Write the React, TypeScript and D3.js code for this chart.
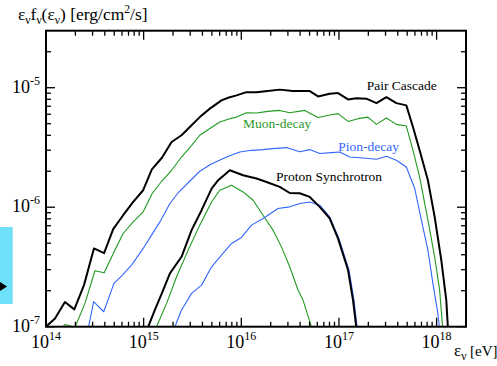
import React from "react";
import * as d3 from "d3";

// all curves as [log10(E / eV), log10(E f(E) / erg cm^-2 s^-1)]
const pairCascade: [number, number][] = [
  [14.0, -7.0], [14.092, -6.931], [14.194, -6.794], [14.29, -6.855], [14.389, -6.652],
  [14.491, -6.345], [14.595, -6.384], [14.688, -6.184], [14.79, -6.067], [14.893, -5.956],
  [14.995, -5.858], [15.084, -5.683], [15.187, -5.586], [15.286, -5.454], [15.388, -5.398],
  [15.473, -5.329], [15.575, -5.246], [15.678, -5.175], [15.797, -5.106], [15.865, -5.084],
  [15.951, -5.064], [16.053, -5.037], [16.156, -5.037], [16.271, -5.027], [16.394, -5.016],
  [16.527, -5.028], [16.701, -5.028], [16.786, -5.073], [16.905, -5.05], [16.991, -5.045],
  [17.093, -5.098], [17.179, -5.089], [17.281, -5.092], [17.384, -5.129], [17.486, -5.079],
  [17.588, -5.129], [17.69, -5.148], [17.758, -5.329], [17.826, -5.524], [17.911, -5.774],
  [17.98, -6.081], [18.048, -6.443], [18.099, -6.777], [18.123, -7.111],
];

const muonDecay: [number, number][] = [
  [14.1, -7.053], [14.194, -6.982], [14.297, -7.005], [14.399, -6.805], [14.501, -6.532],
  [14.596, -6.549], [14.706, -6.359], [14.79, -6.22], [14.893, -6.123], [14.995, -6.039],
  [15.089, -5.883], [15.184, -5.783], [15.286, -5.691], [15.388, -5.58], [15.491, -5.482],
  [15.575, -5.398], [15.678, -5.342], [15.78, -5.287], [15.882, -5.259], [15.951, -5.246],
  [16.053, -5.209], [16.156, -5.211], [16.271, -5.198], [16.394, -5.19], [16.496, -5.209],
  [16.65, -5.19], [16.786, -5.249], [16.923, -5.226], [16.991, -5.217], [17.093, -5.282],
  [17.195, -5.259], [17.297, -5.246], [17.384, -5.307], [17.486, -5.254], [17.588, -5.307],
  [17.69, -5.321], [17.758, -5.524], [17.826, -5.747], [17.911, -6.108], [17.98, -6.415],
  [18.031, -6.694], [18.072, -7.111],
];

const pionDecay: [number, number][] = [
  [14.409, -7.112], [14.488, -6.791], [14.591, -6.875], [14.696, -6.637], [14.783, -6.568],
  [14.88, -6.48], [14.995, -6.345], [15.081, -6.234], [15.166, -6.123], [15.269, -5.969],
  [15.35, -5.883], [15.463, -5.789], [15.575, -5.699], [15.688, -5.641], [15.849, -5.58],
  [15.985, -5.538], [16.104, -5.524], [16.223, -5.518], [16.325, -5.51], [16.462, -5.501],
  [16.598, -5.536], [16.701, -5.518], [16.803, -5.551], [16.923, -5.543], [17.008, -5.538],
  [17.11, -5.58], [17.246, -5.588], [17.384, -5.599], [17.486, -5.574], [17.588, -5.607],
  [17.69, -5.663], [17.775, -5.841], [17.844, -6.108], [17.911, -6.359], [17.962, -6.637],
  [18.013, -6.888], [18.041, -7.111],
];

const protonSync: [number, number][] = [
  [15.023, -7.111], [15.047, -7.0], [15.115, -6.86], [15.2, -6.693], [15.269, -6.554],
  [15.388, -6.415], [15.491, -6.192], [15.593, -6.025], [15.696, -5.844], [15.763, -5.774],
  [15.882, -5.691], [16.018, -5.733], [16.156, -5.76], [16.258, -5.789], [16.394, -5.83],
  [16.496, -5.881], [16.598, -5.883], [16.701, -5.914], [16.803, -5.997], [16.905, -6.094],
  [16.99, -6.261], [17.093, -6.526], [17.144, -6.777], [17.187, -7.069],
];

const protonPion: [number, number][] = [
  [15.299, -7.111], [15.32, -7.0], [15.388, -6.86], [15.491, -6.721], [15.593, -6.652],
  [15.696, -6.499], [15.797, -6.401], [15.9, -6.303], [16.002, -6.253], [16.104, -6.15],
  [16.223, -6.094], [16.376, -6.011], [16.496, -5.997], [16.598, -5.969], [16.701, -5.956],
  [16.803, -5.983], [16.905, -6.081], [17.0, -6.261], [17.103, -6.526], [17.154, -6.777],
  [17.196, -7.069],
];

const protonMuon: [number, number][] = [
  [15.115, -7.111], [15.132, -7.0], [15.235, -6.805], [15.337, -6.582], [15.456, -6.359],
  [15.575, -6.15], [15.695, -5.956], [15.78, -5.858], [15.9, -5.816], [16.018, -5.872],
  [16.121, -5.942], [16.223, -6.067], [16.325, -6.192], [16.411, -6.332], [16.496, -6.499],
  [16.581, -6.693], [16.632, -6.777], [16.718, -7.0], [16.731, -7.111],
];

const xTickExps = [14, 15, 16, 17, 18];
const yTickExps = [-5, -6, -7];

const BLACK = "#000";
const GREEN = "#1f9a1f";
const BLUE = "#3366ff";
const FONT = "Liberation Serif";

export default function App() {
  const width = 497;
  const height = 366;
  const left = 46;
  const right = 466;
  const top = 30.7;
  const bottom = 326.7;

  const x = d3.scaleLog().domain([1e14, 2e18]).range([left, right]);
  const y = d3.scaleLog().domain([1e-7, 3e-5]).range([bottom, top]);

  const line = d3
    .line<[number, number]>()
    .x((d) => x(10 ** d[0]))
    .y((d) => y(10 ** d[1]));

  const isMajor = (t: number) =>
    Math.abs(Math.log10(t) - Math.round(Math.log10(t))) < 1e-9;

  const xTicks = x.ticks().filter((t) => x(t) > left - 0.5 && x(t) < right - 0.5);
  const yTicks = y.ticks().filter((t) => y(t) < bottom + 0.5 && y(t) > top + 0.5);

  const curves = [
    { data: protonMuon, color: GREEN, w: 1.1 },
    { data: protonPion, color: BLUE, w: 1.1 },
    { data: protonSync, color: BLACK, w: 2 },
    { data: pionDecay, color: BLUE, w: 1.1 },
    { data: muonDecay, color: GREEN, w: 1.1 },
    { data: pairCascade, color: BLACK, w: 2 },
  ];

  const txt = { fontFamily: FONT };

  return (
    <svg
      width={width}
      height={height}
      style={{ position: "absolute", left: 0, top: 0, background: "#fff", fontFamily: FONT }}
    >
      <defs>
        <clipPath id="plot">
          <rect x={left} y={top} width={right - left} height={bottom - top} />
        </clipPath>
      </defs>

      {/* cut-off marker on the left edge */}
      <rect x={0} y={227} width={12.7} height={77} fill="#6ee0f8" />
      <path d="M0,282 L7,286.5 L0,291 Z" fill="#000" />

      <g clipPath="url(#plot)">
        {curves.map((c, i) => (
          <path
            key={i}
            d={line(c.data) || ""}
            fill="none"
            stroke={c.color}
            strokeWidth={c.w}
            strokeLinejoin="round"
          />
        ))}
      </g>

      {/* ticks on all four sides, pointing inwards */}
      {xTicks.map((t, i) => {
        const len = isMajor(t) ? 9 : 5;
        const px = x(t);
        return (
          <g key={"xt" + i} stroke="#000" strokeWidth={1.3}>
            <line x1={px} x2={px} y1={bottom} y2={bottom - len} />
            <line x1={px} x2={px} y1={top} y2={top + len} />
          </g>
        );
      })}
      {yTicks.map((t, i) => {
        const len = isMajor(t) ? 9 : 5;
        const py = y(t);
        return (
          <g key={"yt" + i} stroke="#000" strokeWidth={1.3}>
            <line x1={left} x2={left + len} y1={py} y2={py} />
            <line x1={right} x2={right - len} y1={py} y2={py} />
          </g>
        );
      })}

      <rect
        x={left}
        y={top}
        width={right - left}
        height={bottom - top}
        fill="none"
        stroke="#000"
        strokeWidth={2}
      />

      {/* tick labels */}
      {xTickExps.map((e) => (
        <text
          key={"xl" + e}
          x={x(10 ** e)}
          y={348}
          textAnchor="middle"
          fontSize={18}
          fill="#000"
          style={txt}
        >
          10
          <tspan fontSize={12} dy={-8}>
            {e}
          </tspan>
        </text>
      ))}
      {yTickExps.map((e) => (
        <text
          key={"yl" + e}
          x={40}
          y={y(10 ** e) + 5}
          textAnchor="end"
          fontSize={18}
          fill="#000"
          style={txt}
        >
          10
          <tspan fontSize={12} dy={-8}>
            {e}
          </tspan>
        </text>
      ))}

      {/* axis titles */}
      <text x={18} y={20} fontSize={17.5} fill="#000" style={txt}>
        ε<tspan fontSize={11.5} dy={4}>ν</tspan>
        <tspan dy={-4}>f</tspan>
        <tspan fontSize={11.5} dy={4}>ν</tspan>
        <tspan dy={-4}>(ε</tspan>
        <tspan fontSize={11.5} dy={4}>ν</tspan>
        <tspan dy={-4}>) [erg/cm</tspan>
        <tspan fontSize={11.5} dy={-7}>2</tspan>
        <tspan dy={7}>/s]</tspan>
      </text>
      <text x={454} y={356} fontSize={17} fill="#000" style={txt}>
        ε<tspan fontSize={11.5} dy={4}>ν</tspan>
        <tspan dy={-4} fontSize={15}> [eV]</tspan>
      </text>

      {/* curve labels */}
      <text x={366.7} y={90} fontSize={13.5} fill={BLACK} style={txt}>
        Pair Cascade
      </text>
      <text x={243} y={127.5} fontSize={13.5} fill={GREEN} style={txt}>
        Muon-decay
      </text>
      <text x={338.3} y={150.5} fontSize={13.5} fill={BLUE} style={txt}>
        Pion-decay
      </text>
      <text x={276} y={180.5} fontSize={13.5} fill={BLACK} style={txt}>
        Proton Synchrotron
      </text>
    </svg>
  );
}
